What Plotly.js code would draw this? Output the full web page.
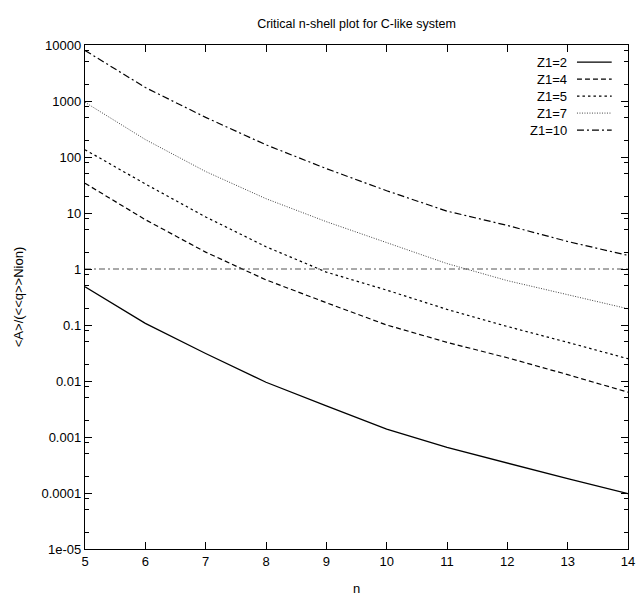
<!DOCTYPE html>
<html>
<head>
<meta charset="utf-8">
<script src="https://cdn.plot.ly/plotly-3.0.1.min.js"></script>
<style>html,body{margin:0;padding:0;background:#fff}#chart{width:636px;height:597px}</style>
</head>
<body>
<div id="chart"></div>
<script>
var n = [5, 6, 7, 8, 9, 10, 11, 12, 13, 14];
var z2 = [0.48, 0.107, 0.031, 0.0095, 0.0036, 0.00138, 0.00065, 0.00034, 0.00018, 0.0000975];
var z4 = [34, 7.6, 2.0, 0.64, 0.25, 0.10, 0.049, 0.026, 0.013, 0.0063];
var z5 = [135, 33, 8.5, 2.5, 0.88, 0.42, 0.19, 0.094, 0.049, 0.025];
var z7 = [950, 205, 55, 18, 7.0, 3.0, 1.25, 0.62, 0.35, 0.195];
var z10 = [8000, 1740, 510, 165, 62, 25, 10.8, 6.0, 3.1, 1.75];
var thresholdX = [5, 14];
var thresholdY = [1, 1];
var seriesNames = ['Z1=2', 'Z1=4', 'Z1=5', 'Z1=7', 'Z1=10'];
var yTickVals = [1e-5, 1e-4, 1e-3, 1e-2, 1e-1, 1, 10, 100, 1000, 10000];
var yTickText = ['1e-05', '0.0001', '0.001', '0.01', '0.1', '1', '10', '100', '1000', '10000'];
var xTickVals = [5, 6, 7, 8, 9, 10, 11, 12, 13, 14];

var FONT = 'Liberation Sans, Arial, sans-serif';
var FS = 13;
var styles = [
  {color: '#000', width: 1.3, dash: 'solid'},
  {color: '#000', width: 1.2, dash: '5px,3px'},
  {color: '#000', width: 1.2, dash: '2.5px,3px'},
  {color: '#444', width: 1.0, dash: '1px,1.5px'},
  {color: '#000', width: 1.2, dash: '7px,3px,2px,3px'}
];
var ys = [z2, z4, z5, z7, z10];

var minorVals = [];
for (var e = -5; e < 4; e++) {
  [2, 5, 8].forEach(function (m) { minorVals.push(m * Math.pow(10, e)); });
}

var traces = ys.map(function (y, i) {
  return {x: n, y: y, type: 'scatter', mode: 'lines', name: seriesNames[i],
          line: {color: styles[i].color, width: styles[i].width, dash: styles[i].dash},
          showlegend: false, hoverinfo: 'skip'};
});
traces.push({x: thresholdX, y: thresholdY, type: 'scatter', mode: 'lines',
             line: {color: '#555', width: 1.2, dash: '6px,3px,2px,3px'}, showlegend: false, hoverinfo: 'skip'});
// invisible trace to activate mirrored right axis (for minor ticks)
traces.push({x: thresholdX, y: thresholdY, yaxis: 'y2', type: 'scatter', mode: 'lines',
             line: {width: 0, color: 'rgba(0,0,0,0)'}, showlegend: false, hoverinfo: 'skip'});

// custom gnuplot-style key: text then line sample
var annotations = [], shapes = [];
var ky0 = 0.966, kdy = 0.0337;
seriesNames.forEach(function (nm, i) {
  var yy = ky0 - i * kdy;
  annotations.push({xref: 'paper', yref: 'paper', x: 0.892, y: yy, xanchor: 'right', yanchor: 'middle',
                    text: nm, showarrow: false, font: {family: FONT, size: FS, color: '#000'}});
  shapes.push({type: 'line', xref: 'paper', yref: 'paper', x0: 0.906, x1: 0.970, y0: yy, y1: yy,
               line: {color: styles[i].color, width: styles[i].width, dash: styles[i].dash}});
});

var minorSpec = {tickmode: 'array', tickvals: minorVals, ticks: 'inside', ticklen: 4, tickcolor: '#000', showgrid: false};

var layout = {
  width: 636, height: 597,
  margin: {l: 85, r: 8, t: 45, b: 48, pad: 0},
  paper_bgcolor: '#fff', plot_bgcolor: '#fff',
  font: {family: FONT, size: FS, color: '#000'},
  title: {text: 'Critical n-shell plot for C-like system', x: 0.5, xref: 'paper', xanchor: 'center',
          y: 1 - 24 / 597, yref: 'container', yanchor: 'middle', font: {family: FONT, size: 12.5, color: '#000'}},
  xaxis: {range: [5, 14], tickmode: 'array', tickvals: xTickVals, ticks: 'inside', ticklen: 7,
          tickcolor: '#000', tickwidth: 1, showline: true, linecolor: '#000', linewidth: 1.2, mirror: 'ticks',
          showgrid: false, zeroline: false, tickfont: {family: FONT, size: FS}, ticklabeloverflow: 'allow',
          title: {text: 'n', font: {family: FONT, size: FS}, standoff: 16}},
  yaxis: {type: 'log', range: [-5, 4], tickmode: 'array', tickvals: yTickVals, ticktext: yTickText,
          ticks: 'inside', ticklen: 7, tickcolor: '#000', tickwidth: 1, showline: true, linecolor: '#000',
          linewidth: 1.2, mirror: 'ticks', showgrid: false, zeroline: false, tickfont: {family: FONT, size: FS},
          minor: minorSpec,
          title: {text: '&lt;A&gt;/(&lt;&lt;q&gt;&gt;Nion)', font: {family: FONT, size: FS}, standoff: 14}},
  yaxis2: {type: 'log', range: [-5, 4], overlaying: 'y', side: 'right', tickmode: 'array', tickvals: yTickVals,
           ticks: 'inside', ticklen: 7, tickcolor: '#000', showticklabels: false, showline: false,
           showgrid: false, zeroline: false, minor: minorSpec},
  annotations: annotations,
  shapes: shapes,
  showlegend: false
};

Plotly.newPlot('chart', traces, layout, {displayModeBar: false, staticPlot: true});
</script>
</body>
</html>
